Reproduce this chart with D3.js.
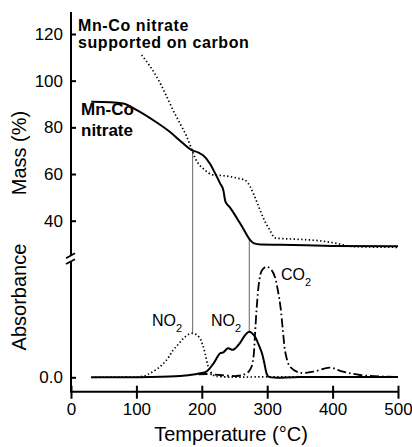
<!DOCTYPE html>
<html>
<head>
<meta charset="utf-8">
<script src="https://cdn.jsdelivr.net/npm/d3@7"></script>
<style>
  body { margin: 0; background: #fff; }
  svg { display: block; font-family: "Liberation Sans", Arial, Helvetica, sans-serif; }
</style>
</head>
<body>
<svg width="412" height="447"></svg>
<script>
// mass curves (TGA)
var massSolidT = [31, 60, 80, 100, 130, 151, 170, 184, 195, 202, 212, 220, 228, 233, 236, 243, 253, 263, 274, 280, 290, 320, 400, 500]
var massSolid = [91, 90.8, 90.2, 87.5, 82.3, 78.1, 73.5, 70.3, 69.2, 68, 64.6, 60.5, 56, 53, 48.3, 45.7, 41.4, 36.8, 31.7, 30.3, 29.8, 29.7, 29.2, 29]

var massDottedT = [108, 120, 131, 145, 156, 168, 177, 184, 190, 196, 202, 210, 218, 228, 245, 258, 266, 274, 282, 289, 296, 304, 312, 320, 350, 380, 406, 432, 500]
var massDotted = [111, 106.5, 101.7, 94, 87.4, 81, 76, 71, 66.7, 64, 62.4, 60.5, 59.6, 59.4, 58.8, 58, 57.4, 54.6, 49.5, 44.6, 40, 36, 32.6, 32.4, 32, 31.4, 30.3, 28.9, 28.6]

// absorbance curves (arbitrary units)
var absDottedT = [31, 80, 110, 121, 136, 147, 156, 164, 172, 180, 186, 192, 197, 201, 205, 210, 218, 230, 300, 500]
var absDotted = [0, 0.003, 0.01, 0.04, 0.106, 0.18, 0.27, 0.33, 0.39, 0.43, 0.44, 0.425, 0.39, 0.33, 0.24, 0.106, 0.02, 0.006, 0.004, 0.004]

var absSolidT = [31, 120, 167, 190, 197, 207, 218, 228, 233, 240, 248, 258, 266, 272.6, 281, 286, 292, 296, 299, 302, 350, 500]
var absSolid = [0, 0.003, 0.013, 0.03, 0.04, 0.056, 0.14, 0.24, 0.25, 0.29, 0.275, 0.34, 0.42, 0.456, 0.41, 0.34, 0.24, 0.13, 0.04, 0.006, 0.004, 0.004]

var absCO2T = [195, 208, 228, 253, 265, 272, 276, 279, 281.3, 284, 288, 292, 299, 307, 312, 316, 320, 324, 328, 335, 350, 370, 396, 416, 442, 483, 500]
var absCO2 = [0.03, 0.033, 0.023, 0.013, 0.03, 0.06, 0.106, 0.2, 0.42, 0.7, 0.97, 1.07, 1.106, 1.07, 1.0, 0.88, 0.72, 0.47, 0.24, 0.106, 0.046, 0.056, 0.096, 0.056, 0.023, 0.006, 0.005]

var xTicks = [0, 100, 200, 300, 400, 500]
var massTicks = [40, 60, 80, 100, 120]

// guide lines: temperature, mass on the curves, absorbance peak
var guideT = [186, 272.6]
var guideMass = [70.6, 32]
var guideAbs = [0.44, 0.456]

var svg = d3.select('svg')

var x = d3.scaleLinear().domain([0, 500]).range([71, 398])
var yMass = d3.scaleLinear().domain([40, 120]).range([220.7, 34])
var yAbs = d3.scaleLinear().domain([0, 1]).range([377.3, 277.3])

function zip(ts, vs) {
    return ts.map(function (t, i) { return [t, vs[i]] })
}

var lineMass = d3.line()
    .x(d => x(d[0]))
    .y(d => yMass(d[1]))
    .curve(d3.curveMonotoneX)

var lineAbs = d3.line()
    .x(d => x(d[0]))
    .y(d => yAbs(d[1]))
    .curve(d3.curveCatmullRom.alpha(0.5))

// guide lines
guideT.forEach(function (t, i) {
    svg.append('line')
        .attr('x1', x(t)).attr('x2', x(t))
        .attr('y1', yMass(guideMass[i])).attr('y2', yAbs(guideAbs[i]))
        .attr('stroke', '#555')
        .attr('stroke-width', 0.9)
})

// mass curves
svg.append('path')
    .attr('d', lineMass(zip(massDottedT, massDotted)))
    .attr('fill', 'none').attr('stroke', '#000')
    .attr('stroke-width', 1.7).attr('stroke-dasharray', '1.4,2.4')

svg.append('path')
    .attr('d', lineMass(zip(massSolidT, massSolid)))
    .attr('fill', 'none').attr('stroke', '#000')
    .attr('stroke-width', 2)

// absorbance curves
svg.append('path')
    .attr('d', lineAbs(zip(absDottedT, absDotted)))
    .attr('fill', 'none').attr('stroke', '#000')
    .attr('stroke-width', 1.7).attr('stroke-dasharray', '1.4,2.4')

svg.append('path')
    .attr('d', lineAbs(zip(absCO2T, absCO2)))
    .attr('fill', 'none').attr('stroke', '#000')
    .attr('stroke-width', 1.8).attr('stroke-dasharray', '9,3,1.6,3')

svg.append('path')
    .attr('d', lineAbs(zip(absSolidT, absSolid)))
    .attr('fill', 'none').attr('stroke', '#000')
    .attr('stroke-width', 2)

// x axis
var xAxis = svg.append('g')
    .attr('transform', 'translate(0,' + 391.7 + ')')
    .call(d3.axisBottom(x).tickValues(xTicks).tickFormat(d3.format('d')).tickSize(7).tickPadding(4))
xAxis.select('.domain').remove()
xAxis.selectAll('.tick line').attr('y1', -6).attr('stroke-width', 2)
xAxis.selectAll('.tick text').attr('font-size', 17).attr('fill', '#000')
xAxis.attr('font-family', null)
xAxis.append('line')
    .attr('x1', x(0)).attr('x2', x(500))
    .attr('stroke', '#000').attr('stroke-width', 2)

// mass axis ticks
var yAxis = svg.append('g')
    .attr('transform', 'translate(' + x(0) + ',0)')
    .call(d3.axisLeft(yMass).tickValues(massTicks).tickSize(5).tickPadding(3))
yAxis.select('.domain').remove()
yAxis.selectAll('.tick line').attr('x2', 5).attr('stroke-width', 2)
yAxis.selectAll('.tick text').attr('font-size', 17).attr('fill', '#000')
yAxis.attr('font-family', null)

// absorbance axis tick
var aAxis = svg.append('g')
    .attr('transform', 'translate(' + x(0) + ',0)')
    .call(d3.axisLeft(yAbs).tickValues([0]).tickFormat(d3.format('.1f')).tickSize(5).tickPadding(3))
aAxis.select('.domain').remove()
aAxis.selectAll('.tick line').attr('x2', 5).attr('stroke-width', 2)
aAxis.selectAll('.tick text').attr('font-size', 17).attr('fill', '#000')
aAxis.attr('font-family', null)

// vertical axis line with break
var ax0 = x(0)
svg.append('line')
    .attr('x1', ax0).attr('x2', ax0).attr('y1', 12).attr('y2', 256)
    .attr('stroke', '#000').attr('stroke-width', 2)
svg.append('line')
    .attr('x1', ax0).attr('x2', ax0).attr('y1', 261.5).attr('y2', 392.7)
    .attr('stroke', '#000').attr('stroke-width', 2)
svg.append('line')
    .attr('x1', ax0 - 5).attr('y1', 258.3).attr('x2', ax0 + 4).attr('y2', 253.3)
    .attr('stroke', '#000').attr('stroke-width', 1.8)
svg.append('line')
    .attr('x1', ax0 - 5).attr('y1', 264).attr('x2', ax0 + 4).attr('y2', 259.3)
    .attr('stroke', '#000').attr('stroke-width', 1.8)

// axis titles
svg.append('text')
    .attr('transform', 'translate(26,153) rotate(-90)')
    .attr('text-anchor', 'middle').attr('font-size', 20)
    .text('Mass (%)')
svg.append('text')
    .attr('transform', 'translate(26,297) rotate(-90)')
    .attr('text-anchor', 'middle').attr('font-size', 20)
    .text('Absorbance')
svg.append('text')
    .attr('x', 231).attr('y', 441)
    .attr('text-anchor', 'middle').attr('font-size', 20)
    .text('Temperature (°C)')

// curve labels
var lab1 = svg.append('text').attr('font-size', 16).attr('font-weight', 'bold').attr('letter-spacing', 0.6)
lab1.append('tspan').attr('x', 78).attr('y', 31).text('Mn-Co nitrate')
lab1.append('tspan').attr('x', 78).attr('y', 48).text('supported on carbon')

var lab2 = svg.append('text').attr('font-size', 17).attr('font-weight', 'bold')
lab2.append('tspan').attr('x', 81).attr('y', 115).text('Mn-Co')
lab2.append('tspan').attr('x', 81).attr('y', 136).text('nitrate')

function gasLabel(px, py, base) {
    var t = svg.append('text').attr('x', px).attr('y', py).attr('font-size', 16)
    t.append('tspan').text(base)
    t.append('tspan').attr('font-size', 11).attr('dy', 6).text('2')
}
gasLabel(152, 326, 'NO')
gasLabel(211, 326, 'NO')
gasLabel(281, 280, 'CO')
</script>
</body>
</html>
